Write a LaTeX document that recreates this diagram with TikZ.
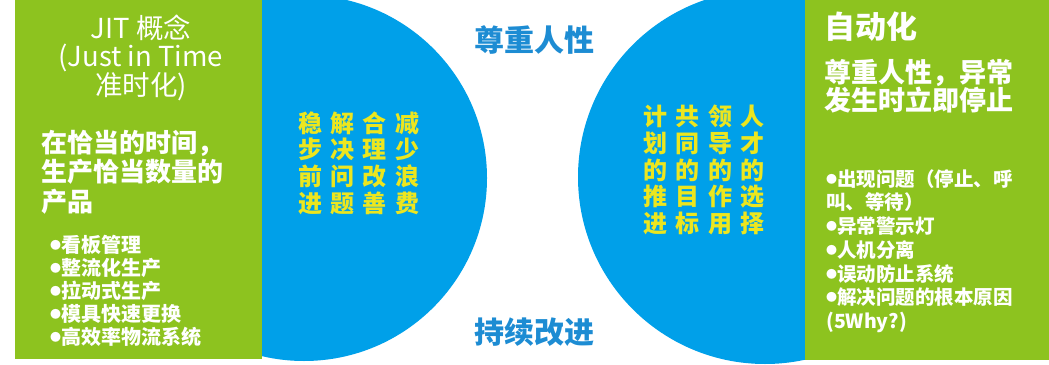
\documentclass[tikz,border=0pt]{standalone}
\usepackage{fontspec}
\newfontfamily\cjk{Noto Sans CJK SC}

\definecolor{jitgreen}{RGB}{141,195,31}   % panel green
\definecolor{discblue}{RGB}{0,160,233}    % half-disc blue
\definecolor{discyellow}{RGB}{236,230,31} % text on the discs
\definecolor{midblue}{RGB}{29,140,211}    % middle labels

% small round bullet in front of a list line
\newcommand{\dotitem}{\raisebox{3pt}{\fontsize{11}{11}\selectfont ●}}

\begin{document}
\begin{tikzpicture}[x=1pt, y=-1pt,
  greenbox/.style={fill=jitgreen, draw=none},
  disc/.style={fill=discblue, draw=none},
  titletext/.style={text=white, inner sep=0pt, align=center, font=\cjk\fontsize{27.5}{27.5}\selectfont},
  bodytext/.style={text=white, inner sep=0pt, align=left, font=\cjk\bfseries\fontsize{26}{29.5}\selectfont},
  itemtext/.style={text=white, inner sep=0pt, align=left, font=\cjk\bfseries\fontsize{20}{23}\selectfont},
  columntext/.style={text=discyellow, inner sep=0pt, align=center, font=\cjk\bfseries\fontsize{24}{26.7}\selectfont},
  middletext/.style={text=midblue, inner sep=0pt, font=\cjk\bfseries\fontsize{30}{30}\selectfont}]

\useasboundingbox (0,0) rectangle (1049,364);

%─────────────
% Half discs (cut by the frame and the panels)
%─────────────
\begin{scope}
  \clip (0,0) rectangle (1049,364);
  \fill[disc] (304,178) circle (183pt);
  \fill[disc] (765,177) circle (187pt);
\end{scope}

%─────────────
% Side panels
%─────────────
\fill[greenbox] (15,0) rectangle (262,359);
\fill[greenbox] (805,0) rectangle (1049,360);

%─────────────
% Left panel: JIT
%─────────────
\node[titletext] (jittitle) at (141,58) {JIT 概念\\(Just in Time\\准时化)};
\node[bodytext, anchor=west] (jitbody) at (41,172) {在恰当的时间，\\生产恰当数量的\\产品};
\node[itemtext, anchor=west] (jititems) at (50,291)
  {\dotitem 看板管理\\\dotitem 整流化生产\\\dotitem 拉动式生产\\\dotitem 模具快速更换\\\dotitem 高效率物流系统};

%─────────────
% Left disc: four columns, read from the right
%─────────────
\node[columntext] (colwaste)   at (407,163) {减\\少\\浪\\费};
\node[columntext] (colimprove) at (374,163) {合\\理\\改\\善};
\node[columntext] (colsolve)   at (342,163) {解\\决\\问\\题};
\node[columntext] (colsteady)  at (310,163) {稳\\步\\前\\进};

%─────────────
% Right disc: four columns, read from the right
%─────────────
\node[columntext] (coltalent) at (752,170) {人\\才\\的\\选\\择};
\node[columntext] (collead)   at (720,170) {领\\导\\的\\作\\用};
\node[columntext] (colgoal)   at (687,170) {共\\同\\的\\目\\标};
\node[columntext] (colplan)   at (655,170) {计\\划\\的\\推\\进};

%─────────────
% Middle labels
%─────────────
\node[middletext] (respect)  at (534,40)  {尊重人性};
\node[middletext] (kaizen)   at (534,332) {持续改进};

%─────────────
% Right panel: Jidoka
%─────────────
\node[text=white, inner sep=0pt, anchor=west, font=\cjk\bfseries\fontsize{31}{31}\selectfont]
  (jidoka) at (824,27) {自动化};
\node[bodytext, anchor=west, font=\cjk\bfseries\fontsize{27}{28}\selectfont]
  (jidokabody) at (824,86) {尊重人性，异常\\发生时立即停止};
\node[itemtext, anchor=west, font=\cjk\bfseries\fontsize{19.5}{23.7}\selectfont] (jidokaitems) at (826,251)
  {\dotitem 出现问题（停止、呼\\叫、等待）\\\dotitem 异常警示灯\\\dotitem 人机分离\\\dotitem 误动防止系统\\\dotitem 解决问题的根本原因\\(5Why?)};

\end{tikzpicture}
\end{document}
